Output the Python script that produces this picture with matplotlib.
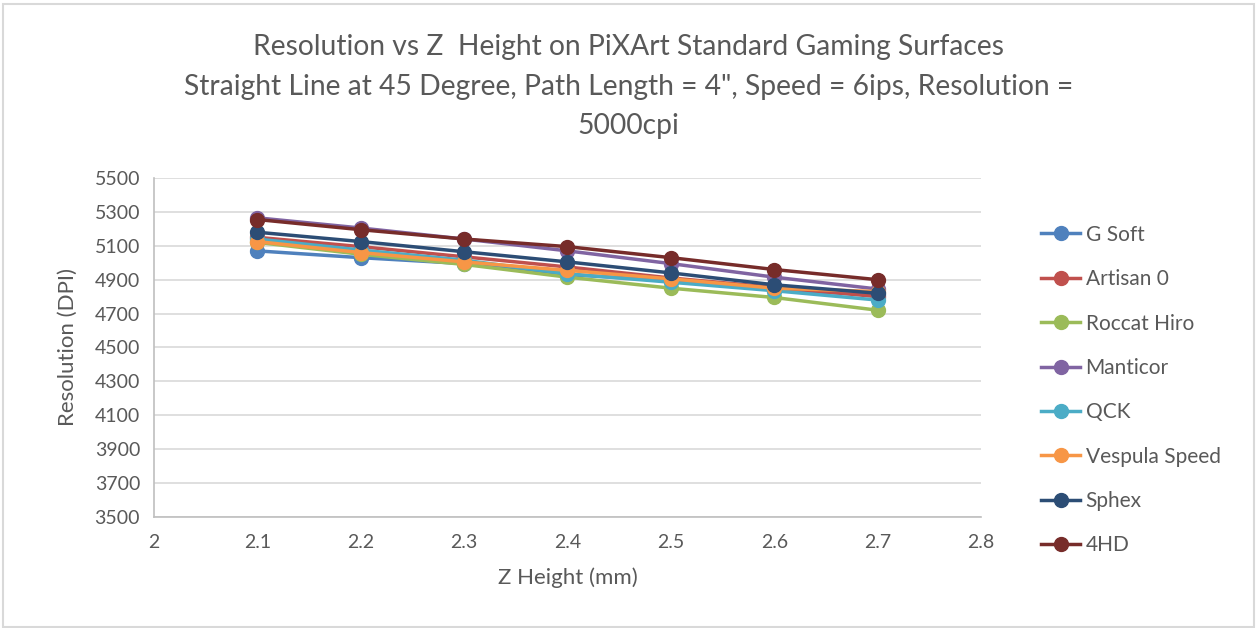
import numpy as np
import matplotlib.pyplot as plt
from matplotlib.patches import Rectangle

plt.rcParams['font.family'] = ['Lato', 'DejaVu Sans']

# data
z = [2.1, 2.2, 2.3, 2.4, 2.5, 2.6, 2.7]
g_soft = [5070, 5030, 4995, 4930, 4895, 4840, 4810]
artisan0 = [5150, 5095, 5035, 4975, 4910, 4855, 4800]
roccat_hiro = [5120, 5050, 4990, 4915, 4850, 4795, 4720]
manticor = [5265, 5205, 5140, 5070, 4995, 4915, 4845]
qck = [5140, 5075, 5015, 4935, 4885, 4835, 4780]
vespula = [5125, 5060, 5005, 4955, 4905, 4850, 4830]
sphex = [5180, 5125, 5065, 5005, 4940, 4870, 4820]
hd4 = [5255, 5195, 5140, 5095, 5030, 4960, 4900]

names = ['G Soft', 'Artisan 0', 'Roccat Hiro', 'Manticor', 'QCK',
         'Vespula Speed', 'Sphex', '4HD']
series = [g_soft, artisan0, roccat_hiro, manticor, qck, vespula, sphex, hd4]
colors = ['#4F81BD', '#C0504D', '#9BBB59', '#8064A2', '#4BACC6',
          '#F79646', '#2C4D75', '#772C2A']

txt = '#595959'

fig = plt.figure(figsize=(12.57, 6.28), dpi=100)
ax = fig.add_axes([154/1257, 1-517/628, (981-154)/1257, (517-178)/628])

for name, vals, c in zip(names, series, colors):
    ax.plot(z, vals, color=c, lw=2.5, marker='o', markersize=10, label=name)

ax.set_xlim(2, 2.8)
ax.set_ylim(3500, 5500)
ax.set_xticks(np.arange(2, 2.81, 0.1))
ax.set_xticklabels(['2', '2.1', '2.2', '2.3', '2.4', '2.5', '2.6', '2.7', '2.8'])
ax.set_yticks(np.arange(3500, 5501, 200))
ax.grid(axis='y', color='#D9D9D9', lw=1.2)
ax.set_axisbelow(True)
for s in ['top', 'right']:
    ax.spines[s].set_visible(False)
for s in ['left', 'bottom']:
    ax.spines[s].set_color('#BFBFBF')
    ax.spines[s].set_linewidth(1.2)
ax.tick_params(length=0, colors=txt, labelsize=14, pad=10)
ax.tick_params(axis='x', pad=12)

ax.set_xlabel('Z Height (mm)', color=txt, fontsize=16, labelpad=12)
ax.set_ylabel('Resolution (DPI)', color=txt, fontsize=16, labelpad=12)

fig.text(0.5, 1-47/628, 'Resolution vs Z  Height on PiXArt Standard Gaming Surfaces',
         ha='center', va='center', color=txt, fontsize=20.3)
fig.text(0.5, 1-87/628, 'Straight Line at 45 Degree, Path Length = 4", Speed = 6ips, Resolution =',
         ha='center', va='center', color=txt, fontsize=20.3)
fig.text(0.5, 1-126/628, '5000cpi', ha='center', va='center', color=txt, fontsize=20.3)

leg = fig.legend(loc='upper left', bbox_to_anchor=(1022/1257, 1-206/628),
                 frameon=False, fontsize=15, labelcolor=txt,
                 handlelength=1.9, labelspacing=1.17, handletextpad=0.25)

fig.patches.append(Rectangle((0.002, 0.002), 0.996, 0.992, transform=fig.transFigure,
                             fill=False, edgecolor='#D9D9D9', lw=1.5))

fig.savefig('out.png', dpi=100)
